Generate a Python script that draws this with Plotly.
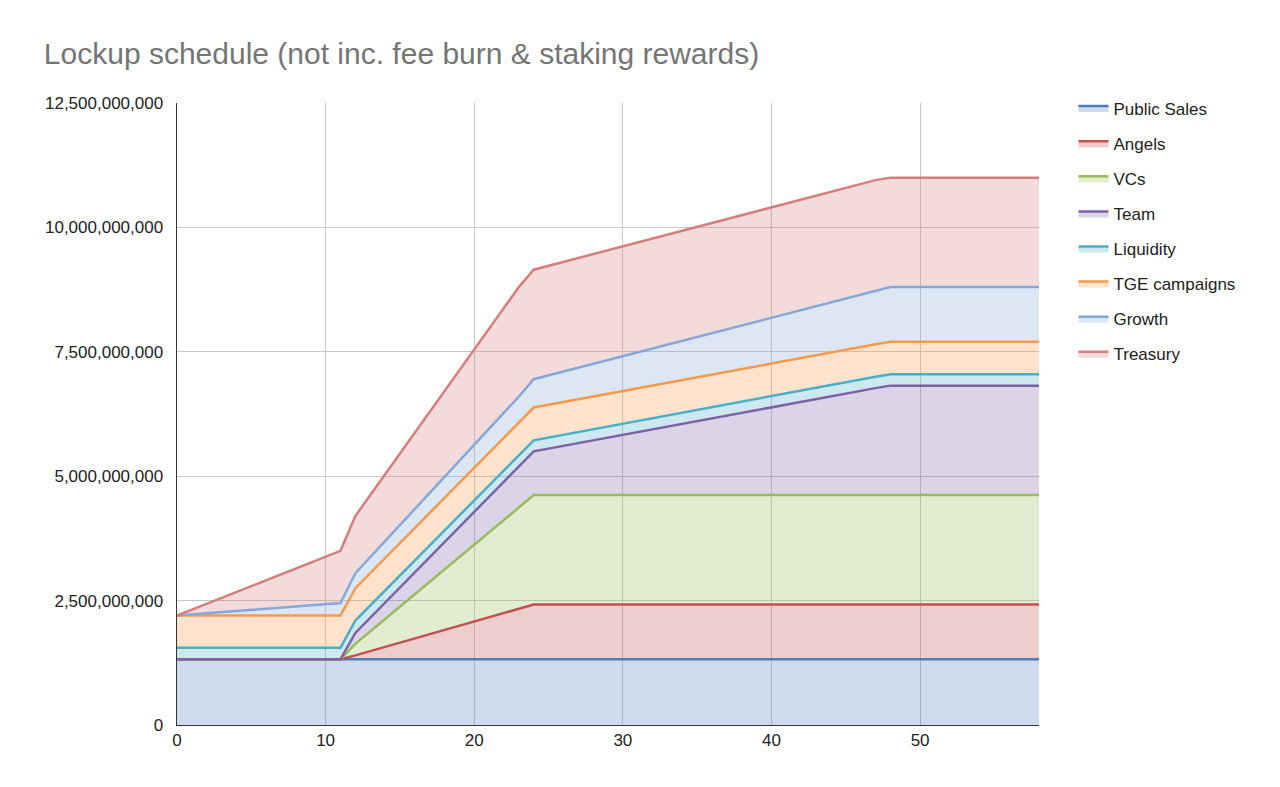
import plotly.graph_objects as go

months = [0, 11, 12, 23, 24, 47, 48, 58]

# token amounts per bucket, in billions (stacked)
public_sales = [1.32, 1.32, 1.32, 1.32, 1.32, 1.32, 1.32, 1.32]
angels = [0, 0, 0.08, 1.01, 1.10, 1.10, 1.10, 1.10]
vcs = [0, 0, 0.23, 2.04, 2.20, 2.20, 2.20, 2.20]
team = [0, 0, 0.22, 0.83, 0.88, 2.15, 2.20, 2.20]
liquidity = [0.23, 0.23, 0.25, 0.22, 0.22, 0.23, 0.23, 0.23]
tge_campaigns = [0.65, 0.65, 0.65, 0.66, 0.66, 0.65, 0.65, 0.65]
growth = [0, 0.25, 0.30, 0.52, 0.57, 1.07, 1.10, 1.10]
treasury = [0, 1.05, 1.15, 2.20, 2.20, 2.23, 2.20, 2.20]

series = [
    ("Public Sales", public_sales, (74, 126, 187)),
    ("Angels", angels, (195, 80, 77)),
    ("VCs", vcs, (152, 187, 89)),
    ("Team", team, (127, 98, 166)),
    ("Liquidity", liquidity, (74, 174, 198)),
    ("TGE campaigns", tge_campaigns, (247, 153, 74)),
    ("Growth", growth, (134, 168, 216)),
    ("Treasury", treasury, (213, 127, 125)),
]

fig = go.Figure()
for name, vals, (r, g, b) in series:
    fig.add_trace(go.Scatter(
        x=months, y=[v * 1e9 for v in vals], name=name, legendgroup=name,
        stackgroup="one", mode="lines",
        line=dict(color=f"rgb({r},{g},{b})", width=2.5),
        fillcolor=f"rgba({r},{g},{b},0.28)",
    ))

fig.update_layout(
    width=1280, height=787,
    font=dict(family="Arial, Liberation Sans", size=17, color="#222"),
    title=dict(text="Lockup schedule (not inc. fee burn & staking rewards)",
               x=0.028, xanchor="left", y=0.955,
               font=dict(size=30, color="#757575")),
    plot_bgcolor="white", paper_bgcolor="white",
    margin=dict(l=169, r=249, t=95, b=70),
    legend=dict(traceorder="reversed+grouped", tracegroupgap=10,
                x=1.04, y=1.02, yanchor="top", font=dict(size=17)),
    showlegend=True,
)
fig.update_xaxes(range=[0, 58], dtick=10, showgrid=True, gridcolor="#c8c8c8",
                 showline=True, linecolor="#333", ticks="", zeroline=False)
fig.update_yaxes(range=[0, 12.5e9], dtick=2.5e9, tickformat=",d", showgrid=True,
                 gridcolor="#c8c8c8", showline=True, linecolor="#333",
                 zeroline=False, ticksuffix="  ")

fig.write_html("out.html")
